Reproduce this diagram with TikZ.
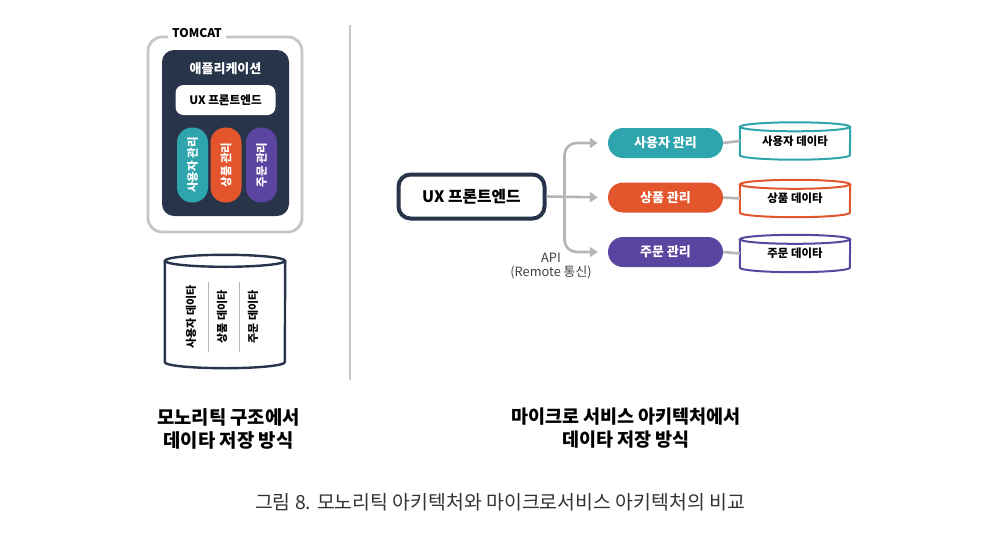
\documentclass[tikz,border=0pt]{standalone}
\usepackage{fontspec}
\setmainfont{Noto Sans CJK KR}
\usetikzlibrary{arrows.meta,calc,positioning}
\definecolor{navy}{HTML}{28344A}
\definecolor{cuser}{HTML}{2EA5AC}
\definecolor{cprod}{HTML}{E3552D}
\definecolor{corder}{HTML}{5A45A0}
\definecolor{wire}{HTML}{B5B5B5}
\definecolor{shell}{HTML}{C6C6C6}
\tikzset{
	flow/.style = {-{Triangle[length=8pt,width=10pt]}, wire, line width=2.6pt},
	link/.style = {wire, line width=2.6pt},
	el/.style = {inner sep=0pt, align=center}
}

\begin{document}
\begin{tikzpicture}[x=1pt, y=-1pt]
		\useasboundingbox (0,0) rectangle (998,538);
		\tikzstyle{pill} = [rectangle, rounded corners=15pt, minimum width=115pt,
		minimum height=30pt, inner sep=0pt, text=white, font=\fontsize{13}{13}\selectfont\bfseries]
		\tikzstyle{vpill} = [pill, rotate=90, minimum width=75pt, minimum height=31pt,
		font=\fontsize{11.5}{11.5}\selectfont\bfseries]
		\tikzstyle{store} = [rectangle, fill=white, minimum width=110pt, minimum height=28pt,
		inner sep=0pt, font=\fontsize{11.4}{11.4}\selectfont\bfseries]
		% monolith side
		\node[draw=shell, line width=2.8pt, rounded corners=14pt, minimum width=154pt,
		minimum height=195pt] (tomcat) at (225,134.5) {};
		\node[fill=white, inner sep=4pt, font=\fontsize{12}{12}\selectfont\bfseries] (tlabel) at (197,33) {TOMCAT};
		\node[fill=navy, rounded corners=12pt, minimum width=127pt, minimum height=166pt] (app) at (225.5,133) {};
		\node[el, text=white, font=\fontsize{13}{13}\selectfont\bfseries] (appname) at (225.5,69) {애플리케이션};
		\node[fill=white, rounded corners=8pt, minimum width=100pt, minimum height=30pt,
		inner sep=0pt, font=\fontsize{11.6}{11.6}\selectfont\bfseries] (ux1) at (225.5,100) {UX 프론트엔드};
		\node[vpill, fill=cuser] (u1) at (192.5,165) {사용자 관리};
		\node[vpill, fill=cprod] (p1) at (226,165) {상품 관리};
		\node[vpill, fill=corder] (o1) at (261.5,165) {주문 관리};
		% one shared database
		\node[store, minimum width=120pt, minimum height=101pt] (db) at (225,311.5) {};
		\draw[navy, line width=2.4pt] (db.north west) -- (db.south west)
		arc[start angle=180, end angle=360, x radius=60pt, y radius=6pt] -- (db.north east);
		\draw[navy, line width=2.4pt] (db.north) ellipse [x radius=60pt, y radius=6pt];
		\node[el, rotate=90, font=\fontsize{11}{11}\selectfont\bfseries] (ud1) at (191,317) {사용자 데이타};
		\node[el, rotate=90, font=\fontsize{11}{11}\selectfont\bfseries] (pd1) at (222,317) {상품 데이타};
		\node[el, rotate=90, font=\fontsize{11}{11}\selectfont\bfseries] (od1) at (253,317) {주문 데이타};
		\draw[wire, line width=0.8pt] (208,282) -- (208,352);
		\draw[wire, line width=0.8pt] (239,282) -- (239,352);
		% divider
		\draw[shell, line width=1.5pt] (350,25) -- (350,380);
		% microservice side
		\node[draw=navy, line width=4pt, rounded corners=12pt, minimum width=146pt,
		minimum height=44pt, font=\fontsize{15.8}{15.8}\selectfont\bfseries] (ux2) at (471.5,196.5) {UX 프론트엔드};
		\node[pill, fill=cuser] (u2) at (665.5,143) {사용자 관리};
		\node[pill, fill=cprod] (p2) at (665.5,197.5) {상품 관리};
		\node[pill, fill=corder] (o2) at (665.5,252) {주문 관리};
		\node[store] (ud2) at (795,141) {사용자 데이타};
		\node[store] (pd2) at (795,198.5) {상품 데이타};
		\node[store] (od2) at (795,253.5) {주문 데이타};
		\foreach \n/\c in {ud2/cuser, pd2/cprod, od2/corder} {
			\draw[\c, line width=2pt] (\n.north west) -- (\n.south west)
			arc[start angle=180, end angle=360, x radius=55pt, y radius=4.5pt] -- (\n.north east);
			\draw[\c, line width=2pt] (\n.north) ellipse [x radius=55pt, y radius=4.5pt];
		}
		\coordinate (hub) at ($(ux2.east)+(18,0)$);
		\draw[flow, shorten >=10pt] (ux2.east) -- (p2.west);
		\draw[flow, shorten >=10pt, rounded corners=12pt] (hub) |- (u2.west);
		\draw[flow, shorten >=10pt, rounded corners=12pt] (hub) |- (o2.west);
		\draw[link] (u2.east) -- (ud2.west);
		\draw[link] (p2.east) -- (pd2.west);
		\draw[link] (o2.east) -- (od2.west);
		\node[el, text=black!75, font=\fontsize{12.8}{14.5}\selectfont] (api) at (551,266) {API\\(Remote 통신)};
		% titles
		\node[el, font=\fontsize{18.8}{23}\selectfont\bfseries] (ltitle) at (228.5,428.5) {모노리틱 구조에서\\데이타 저장 방식};
		\node[el, font=\fontsize{18.5}{23}\selectfont\bfseries] (rtitle) at (626,428.5) {마이크로 서비스 아키텍처에서\\데이타 저장 방식};
		\node[el, text=black!80, font=\fontsize{19.4}{19.4}\selectfont] (caption) at (500,502) {그림 8. 모노리틱 아키텍처와 마이크로서비스 아키텍처의 비교};
\end{tikzpicture}
\end{document}
